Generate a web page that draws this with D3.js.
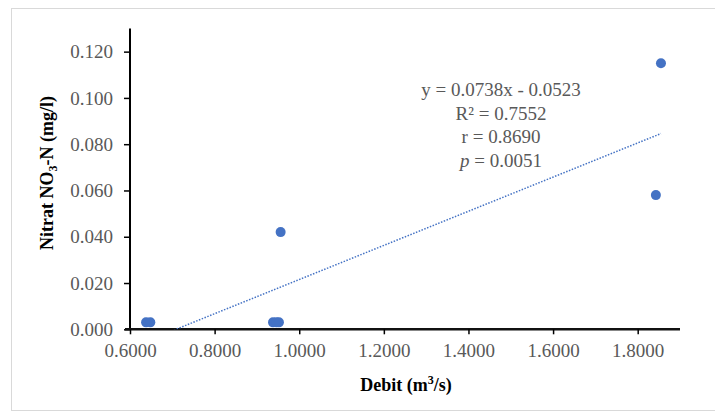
<!DOCTYPE html>
<html>
<head>
<meta charset="utf-8">
<script src="https://cdn.jsdelivr.net/npm/d3@7"></script>
<style>
  body { margin: 0; background: #fff; }
  #chart { width: 715px; height: 412px; }
  svg text { font-family: "Liberation Serif", "Times New Roman", serif; }
</style>
</head>
<body>
<div id="chart"></div>
<script>
const debit = [0.638, 0.648, 0.938, 0.946, 0.952, 0.956, 1.843, 1.855];
const nitrat = [0.003, 0.003, 0.003, 0.003, 0.003, 0.042, 0.058, 0.115];
const xTicks = [0.6, 0.8, 1.0, 1.2, 1.4, 1.6, 1.8];
const yTicks = [0, 0.02, 0.04, 0.06, 0.08, 0.1, 0.12];
const slope = 0.0738;
const intercept = -0.0523;
const statLines = ['y = 0.0738x - 0.0523', 'R² = 0.7552', 'r = 0.8690', 'p = 0.0051'];

const data = debit.map((d, i) => ({ x: d, y: nitrat[i] }));

const svg = d3.select('#chart').append('svg').attr('width', 715).attr('height', 412);

svg.append('rect')
  .attr('x', 11.5).attr('y', 8.5)
  .attr('width', 720).attr('height', 402)
  .attr('fill', '#fff')
  .attr('stroke', '#d9d9d9');

const x = d3.scaleLinear().domain([0.6, 1.9]).range([130, 680]);
const y = d3.scaleLinear().domain([0, 0.13]).range([329.3, 28.5]);

svg.append('defs').append('clipPath').attr('id', 'plot')
  .append('rect')
  .attr('x', 130).attr('y', 28.5)
  .attr('width', 550).attr('height', 300.8);

// y axis
const yAxis = svg.append('g')
  .attr('transform', 'translate(130,0)')
  .call(d3.axisLeft(y).tickValues(yTicks).tickFormat(d3.format('.3f')).tickSize(6).tickPadding(11))
  .attr('font-family', null)
  .attr('font-size', null);
yAxis.select('.domain').attr('stroke', '#000').attr('stroke-width', 2).attr('d', 'M0,28.5V329.3');
yAxis.selectAll('.tick line').attr('stroke', '#000').attr('stroke-width', 1.5);
yAxis.selectAll('.tick text')
  .attr('fill', '#595959')
  .style('font-size', '19px');

// x axis
const xAxis = svg.append('g')
  .attr('transform', 'translate(0,329.3)')
  .call(d3.axisBottom(x).tickValues(xTicks).tickFormat(d3.format('.4f')).tickSize(5).tickPadding(9))
  .attr('font-family', null)
  .attr('font-size', null);
xAxis.select('.domain').attr('stroke', '#111').attr('stroke-width', 2.5).attr('d', 'M125,0H680');
xAxis.selectAll('.tick line').attr('stroke', '#000').attr('stroke-width', 1.5);
xAxis.selectAll('.tick text')
  .attr('fill', '#595959')
  .style('font-size', '19px');

// trendline
const xMin = d3.min(debit);
const xMax = d3.max(debit);
svg.append('path')
  .datum([xMin, xMax])
  .attr('clip-path', 'url(#plot)')
  .attr('fill', 'none')
  .attr('stroke', '#4472c4')
  .attr('stroke-width', 1.5)
  .attr('stroke-dasharray', '1.5,1.5')
  .attr('d', d3.line().x((d) => x(d)).y((d) => y(slope * d + intercept)));

// points
svg.append('g')
  .selectAll('circle')
  .data(data)
  .enter()
  .append('circle')
  .attr('cx', (d) => x(d.x))
  .attr('cy', (d) => y(d.y))
  .attr('r', 5)
  .attr('fill', '#4472c4');

// stats
const stats = svg.append('g')
  .attr('fill', '#595959')
  .style('font-size', '19px')
  .attr('text-anchor', 'middle');
statLines.forEach((s, i) => {
  const t = stats.append('text').attr('x', 501).attr('y', 96 + i * 23.5);
  if (s.startsWith('p')) {
    t.append('tspan').style('font-style', 'italic').text('p');
    t.append('tspan').text(s.slice(1));
  } else {
    t.text(s);
  }
});

// axis titles
const yTitle = svg.append('text')
  .attr('transform', 'translate(53,173) rotate(-90)')
  .attr('text-anchor', 'middle')
  .attr('fill', '#000')
  .style('font-size', '18px')
  .style('font-weight', 'bold');
yTitle.append('tspan').text('Nitrat NO');
yTitle.append('tspan').attr('dy', 4).style('font-size', '12px').text('3');
yTitle.append('tspan').attr('dy', -4).text('-N (mg/l)');

const xTitle = svg.append('text')
  .attr('x', 406).attr('y', 391)
  .attr('text-anchor', 'middle')
  .attr('fill', '#000')
  .style('font-size', '18px')
  .style('font-weight', 'bold');
xTitle.append('tspan').text('Debit (m');
xTitle.append('tspan').attr('dy', -7).style('font-size', '12px').text('3');
xTitle.append('tspan').attr('dy', 7).text('/s)');
</script>
</body>
</html>
